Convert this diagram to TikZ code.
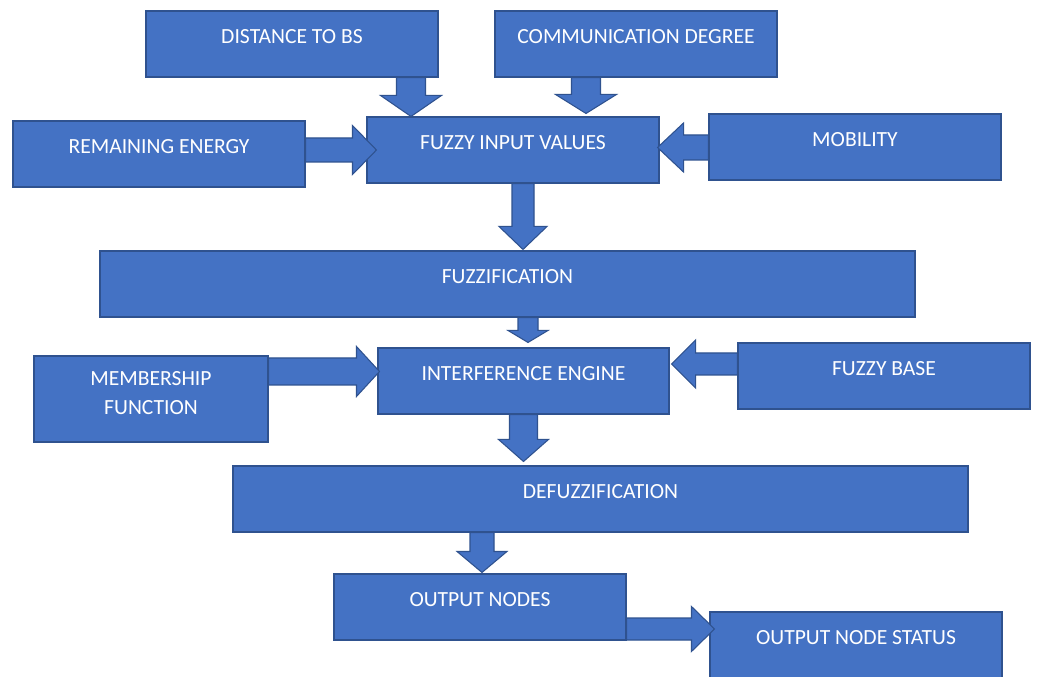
\documentclass[tikz,border=0pt]{standalone}
\usepackage{fontspec}
\setmainfont{Carlito}
\usetikzlibrary{calc}
\definecolor{obox}{HTML}{4472C4}
\definecolor{oline}{HTML}{2F528F}
\tikzset{
  box/.style 2 args={draw=oline, fill=obox, line width=0.8pt, text=white,
    font=\fontsize{16.2}{21.75}\selectfont, inner sep=0pt, text height=10.3pt,
    text depth=11pt, align=center,
    minimum width={#1*0.75pt}, minimum height={#2*0.75pt}},
  barrow/.style={draw=oline, fill=obox, line width=0.8pt, line join=miter}
}
% vertical (downward) block arrow: start, end, shaft half width, head half width, head length (px)
\newcommand\darrow[5]{\draw[barrow] let \p1=(#1), \p2=(#2) in
  ({\x1-0.75pt*(#3)},\y1) -- ({\x1-0.75pt*(#3)},{\y2+0.75pt*(#5)}) --
  ({\x1-0.75pt*(#4)},{\y2+0.75pt*(#5)}) -- (\x1,\y2) --
  ({\x1+0.75pt*(#4)},{\y2+0.75pt*(#5)}) -- ({\x1+0.75pt*(#3)},{\y2+0.75pt*(#5)}) --
  ({\x1+0.75pt*(#3)},\y1) -- cycle;}
% horizontal block arrow: signed head length (positive = pointing right)
\newcommand\harrow[5]{\draw[barrow] let \p1=(#1), \p2=(#2) in
  (\x1,{\y1+0.75pt*(#3)}) -- ({\x2-0.75pt*(#5)},{\y1+0.75pt*(#3)}) --
  ({\x2-0.75pt*(#5)},{\y1+0.75pt*(#4)}) -- (\x2,\y1) --
  ({\x2-0.75pt*(#5)},{\y1-0.75pt*(#4)}) -- ({\x2-0.75pt*(#5)},{\y1-0.75pt*(#3)}) --
  (\x1,{\y1-0.75pt*(#3)}) -- cycle;}
\begin{document}
\begin{tikzpicture}[x=0.75pt, y=-0.75pt]
\useasboundingbox[fill=white] (0,0) rectangle (1040,677);
% boxes
\node[box={292}{66}] (dist) at (292,44) {DISTANCE TO BS};
\node[box={282}{66}] (comm) at (636,44) {COMMUNICATION DEGREE};
\node[box={292}{66}] (rem)  at (159,154) {REMAINING ENERGY};
\node[box={292}{66}] (fin)  at (513,150) {FUZZY INPUT VALUES};
\node[box={292}{66}] (mob)  at (855,147) {MOBILITY};
\node[box={815}{66}] (fuzz) at (507.5,284) {FUZZIFICATION};
\node[box={234}{86}, text height=35.8pt, text depth=12pt] (mem)  at (151,399) {MEMBERSHIP\\FUNCTION};
\node[box={291}{66}] (ie)   at (523.5,381) {INTERFERENCE ENGINE};
\node[box={292}{66}] (fb)   at (884,376) {FUZZY BASE};
\node[box={735}{66}] (defz) at (600.5,499) {DEFUZZIFICATION};
\node[box={292}{66}] (out)  at (480,607) {OUTPUT NODES};
\node[box={292}{66}] (ons)  at (856,645) {OUTPUT NODE STATUS};
% block arrows
\darrow{$(dist.south)+(119,0)$}{fin.north}{14.5}{30.5}{21}
\darrow{$(comm.south)+(-50,0)$}{$(fin.north)+(0,-3)$}{14.5}{30.5}{19}
\harrow{$(rem.east)+(0,-4)$}{$(fin.west)+(10,0)$}{12}{24.5}{24}
\harrow{$(mob.west)+(0,0.5)$}{$(fin.east)+(-2,0)$}{12.5}{24.5}{-26}
\darrow{$(fin.south)+(10,0)$}{$(fuzz.north)+(0,-1)$}{11}{24}{23}
\darrow{$(fuzz.south)+(20.5,0)$}{$(ie.north)+(0,-5)$}{10}{20}{12}
\harrow{$(mem.east)+(0,-27.5)$}{$(ie.west)+(2,0)$}{13.5}{25}{23}
\harrow{$(fb.west)+(0,-12)$}{$(ie.east)+(2,0)$}{11}{24}{-24}
\darrow{ie.south}{$(defz.north)+(0,-4)$}{14}{25}{22}
\darrow{$(defz.south)+(-118.5,0)$}{$(out.north)+(0,-1)$}{12}{25}{21}
\harrow{$(out.east)+(0,22)$}{$(ons.west)+(5,0)$}{11}{22.5}{23}
\end{tikzpicture}
\end{document}
